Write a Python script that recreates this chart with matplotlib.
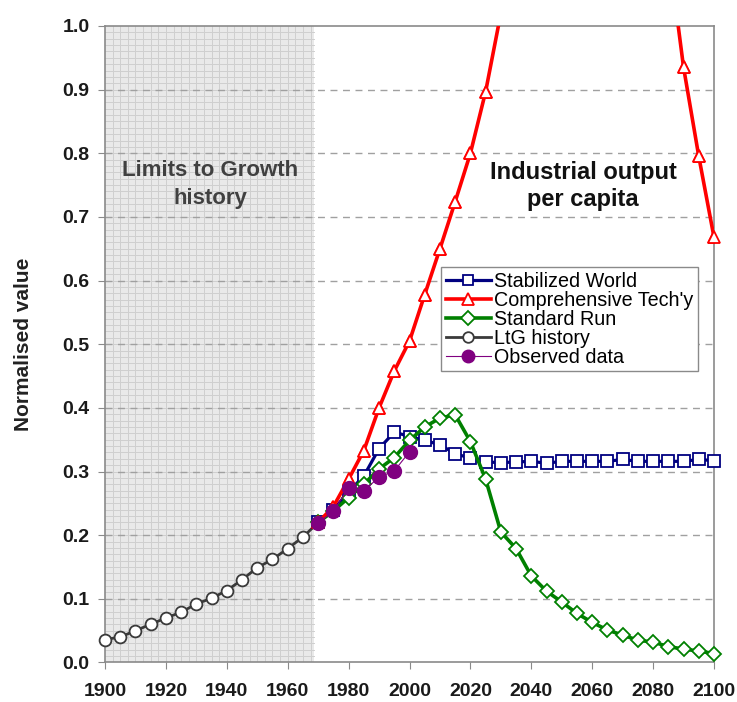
import numpy as np
import matplotlib
matplotlib.use("Agg")
import matplotlib.pyplot as plt

plt.rcParams['font.family'] = ['Liberation Sans', 'DejaVu Sans']

# ---- data ----
hist_years = [1900, 1905, 1910, 1915, 1920, 1925, 1930, 1935, 1940, 1945, 1950, 1955, 1960, 1965, 1970]
hist_vals = [0.036, 0.040, 0.050, 0.060, 0.070, 0.079, 0.092, 0.101, 0.113, 0.130, 0.149, 0.162, 0.179, 0.197, 0.220]

run_years = list(range(1970, 2101, 5))
stab_vals = [0.220, 0.240, 0.268, 0.293, 0.336, 0.362, 0.355, 0.349, 0.342, 0.328, 0.321, 0.315,
             0.314, 0.315, 0.316, 0.313, 0.316, 0.316, 0.316, 0.316, 0.319, 0.316, 0.316, 0.316,
             0.316, 0.319, 0.317]
tech_vals = [0.220, 0.245, 0.288, 0.333, 0.400, 0.458, 0.505, 0.578, 0.650, 0.724, 0.800, 0.897,
             1.020, np.nan, np.nan, np.nan, np.nan, np.nan, np.nan, np.nan, np.nan, np.nan, np.nan,
             1.120, 0.935, 0.795, 0.668]
std_vals = [0.220, 0.238, 0.259, 0.280, 0.304, 0.322, 0.349, 0.370, 0.384, 0.389, 0.347, 0.288,
            0.205, 0.179, 0.136, 0.112, 0.095, 0.077, 0.063, 0.051, 0.043, 0.035, 0.032, 0.025,
            0.021, 0.018, 0.014]

obs_years = [1970, 1975, 1980, 1985, 1990, 1995, 2000]
obs_vals = [0.219, 0.238, 0.274, 0.270, 0.291, 0.301, 0.331]

x_ticks = list(range(1900, 2101, 20))
y_ticks = [round(0.1 * i, 1) for i in range(11)]

# ---- figure ----
fig = plt.figure(figsize=(7.37, 7.02), dpi=100)
ax = fig.add_axes([0.1425, 0.0563, 0.8263, 0.9067])
ax.set_xlim(1900, 2100)
ax.set_ylim(0, 1.0)

# shaded history region with fine grid
shade_end = 1968.7
ax.axvspan(1900, shade_end, color='#e9e9e9', zorder=0, lw=0)
for xv in np.arange(1902.5, shade_end, 2.5):
    ax.plot([xv, xv], [0, 1], color='#cfcfcf', lw=0.7, zorder=0.5)
for yv in np.arange(0.01, 1.0, 0.01):
    ax.plot([1900, shade_end], [yv, yv], color='#cfcfcf', lw=0.7, zorder=0.5)

# horizontal dashed gridlines
for yv in y_ticks[1:-1]:
    ax.axhline(yv, color='#a0a0a0', lw=1.0, ls=(0, (5, 4)), zorder=1)

ax.plot(hist_years, hist_vals, color='#3a3a3a', lw=2.0, marker='o', ms=8.5,
        mfc='white', mec='#3a3a3a', mew=1.3, label='LtG history', zorder=3, clip_on=False)
ax.plot(run_years, stab_vals, color='#000080', lw=2.3, marker='s', ms=8.5,
        mfc='white', mec='#000080', mew=1.3, label='Stabilized World', zorder=3, clip_on=False)
ax.plot(run_years, std_vals, color='#008000', lw=2.6, marker='D', ms=7.5,
        mfc='white', mec='#008000', mew=1.3, label='Standard Run', zorder=4, clip_on=False)
# comprehensive technology: line clipped to the axes, visible markers unclipped
tech_arr = np.array(tech_vals, dtype=float)
ax.plot(run_years, tech_arr, color='#ff0000', lw=2.6, marker='^', ms=9,
        mfc='white', mec='#ff0000', mew=1.3, label="Comprehensive Tech'y", zorder=4)
tech_vis = np.where(tech_arr <= 1.0, tech_arr, np.nan)
ax.plot(run_years, tech_vis, ls='none', marker='^', ms=9,
        mfc='white', mec='#ff0000', mew=1.3, zorder=4.1, clip_on=False)
ax.plot(obs_years, obs_vals, color='#800080', lw=0.8, marker='o', ms=10,
        mfc='#800080', mec='#800080', label='Observed data', zorder=5)

# spines & ticks
for s in ax.spines.values():
    s.set_color('#8a8a8a')
    s.set_linewidth(1.2)
ax.set_xticks(x_ticks)
ax.set_yticks(y_ticks)
ax.set_yticklabels([f"{v:.1f}" for v in y_ticks])
ax.tick_params(axis='both', direction='out', length=5, color='#8a8a8a',
               labelsize=14, pad=6)
ax.tick_params(axis='x', pad=10)
for lab in ax.get_xticklabels() + ax.get_yticklabels():
    lab.set_fontweight('bold')
    lab.set_color('#1a1a1a')

ax.set_ylabel('Normalised value', fontsize=15, fontweight='bold', color='#222222', labelpad=21)

ax.text(1934.5, 0.751, 'Limits to Growth\nhistory', ha='center', va='center',
        fontsize=16, fontweight='bold', color='#404040', linespacing=1.4, zorder=2)
ax.text(2057, 0.749, 'Industrial output\nper capita', ha='center', va='center',
        fontsize=17, fontweight='bold', color='#111111', linespacing=1.2, zorder=2)

handles, labels = ax.get_legend_handles_labels()
order = ['Stabilized World', "Comprehensive Tech'y", 'Standard Run', 'LtG history', 'Observed data']
hmap = dict(zip(labels, handles))
leg = ax.legend([hmap[k] for k in order], order, loc='upper left',
                bbox_to_anchor=(0.551, 0.622), borderaxespad=0, fontsize=14.2,
                frameon=True, fancybox=False, edgecolor='#8a8a8a', framealpha=1,
                labelspacing=0.0, handlelength=2.3, handletextpad=0.15,
                borderpad=0.25, markerscale=0.9)
leg.get_frame().set_linewidth(1.0)
leg.set_zorder(6)

fig.savefig('out.png', dpi=100)
